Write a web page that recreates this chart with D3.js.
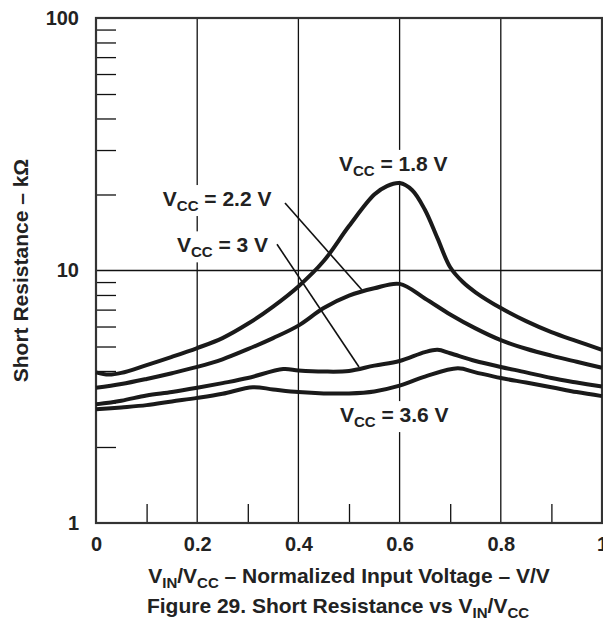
<!DOCTYPE html>
<html>
<head>
<meta charset="utf-8">
<script src="https://cdn.jsdelivr.net/npm/d3@7"></script>
<style>
  body { margin: 0; background: #fff; }
  svg { display: block; }
  text { font-family: Arial, "Liberation Sans", Helvetica, sans-serif; font-weight: bold; fill: #222; }
</style>
</head>
<body>
<svg width="603" height="624"></svg>
<script>
// values (x = VIN/VCC, y = short resistance in kOhm)
var vin18 = [0, 0.025, 0.05, 0.1, 0.15, 0.2, 0.25, 0.3, 0.35, 0.4, 0.45, 0.5, 0.55, 0.575, 0.6, 0.625, 0.65, 0.675, 0.7, 0.725, 0.75, 0.8, 0.85, 0.9, 0.95, 1.0];
var res18 = [3.95, 3.87, 3.93, 4.22, 4.55, 4.93, 5.4, 6.15, 7.2, 8.65, 10.9, 15.0, 20.0, 21.6, 22.2, 20.8, 17.4, 13.4, 10.3, 9.0, 8.2, 7.1, 6.3, 5.7, 5.25, 4.85];

var vin22 = [0, 0.05, 0.1, 0.15, 0.2, 0.25, 0.3, 0.35, 0.4, 0.45, 0.5, 0.55, 0.6, 0.65, 0.7, 0.75, 0.8, 0.85, 0.9, 0.95, 1.0];
var res22 = [3.43, 3.55, 3.72, 3.92, 4.15, 4.45, 4.88, 5.4, 6.05, 7.1, 7.95, 8.5, 8.85, 7.75, 6.7, 5.9, 5.3, 4.9, 4.6, 4.35, 4.12];

var vin30 = [0, 0.05, 0.1, 0.15, 0.2, 0.25, 0.3, 0.37, 0.4, 0.45, 0.5, 0.55, 0.6, 0.65, 0.675, 0.7, 0.75, 0.8, 0.85, 0.9, 0.95, 1.0];
var res30 = [2.95, 3.05, 3.2, 3.3, 3.43, 3.58, 3.75, 4.07, 4.02, 3.98, 4.0, 4.2, 4.38, 4.75, 4.85, 4.7, 4.38, 4.15, 3.95, 3.75, 3.6, 3.47];

var vin36 = [0, 0.05, 0.1, 0.15, 0.2, 0.25, 0.31, 0.35, 0.4, 0.45, 0.5, 0.55, 0.6, 0.65, 0.715, 0.75, 0.8, 0.85, 0.9, 0.95, 1.0];
var res36 = [2.82, 2.87, 2.93, 3.03, 3.13, 3.25, 3.45, 3.38, 3.3, 3.26, 3.26, 3.32, 3.5, 3.8, 4.1, 3.95, 3.75, 3.6, 3.45, 3.3, 3.18];

var xTicks = [0, 0.2, 0.4, 0.6, 0.8, 1];
var xTickLabels = ["0", "0.2", "0.4", "0.6", "0.8", "1"];
var xMinor = [0.1, 0.3, 0.5, 0.7, 0.9];
var yTicks = [1, 10, 100];
var yTickLabels = ["1", "10", "100"];
var yMinor = [2, 3, 4, 5, 6, 7, 8, 9, 20, 30, 40, 50, 60, 70, 80, 90];

// curve labels: text pieces [text, isSubscript], anchor in data units
var labelText = [
  [["V", 0], ["CC", 1], [" = 1.8 V", 0]],
  [["V", 0], ["CC", 1], [" = 2.2 V", 0]],
  [["V", 0], ["CC", 1], [" = 3 V", 0]],
  [["V", 0], ["CC", 1], [" = 3.6 V", 0]]
];
var labelAt = [[0.48, 24.8], [0.132, 18.0], [0.16, 11.8], [0.482, 2.51]];
// leader lines [from, to] in data units
var leaders = [
  [[0.3735, 18.5], [0.5257, 8.37]],
  [[0.3577, 12.7], [0.5198, 4.15]]
];

var svg = d3.select("svg");
var plotLeft = 96, plotRight = 602, plotTop = 18, plotBottom = 523;

var x = d3.scaleLinear().domain([0, 1]).range([plotLeft, plotRight]);
var y = d3.scaleLog().domain([1, 100]).range([plotBottom, plotTop]);

// grid lines
var grid = svg.append("g").attr("stroke", "#111").attr("stroke-width", 1.3);
grid.selectAll(".vg").data([0.2, 0.4, 0.6, 0.8]).enter().append("line")
  .attr("x1", d => x(d)).attr("x2", d => x(d))
  .attr("y1", plotTop).attr("y2", plotBottom);
grid.append("line")
  .attr("x1", plotLeft).attr("x2", plotRight)
  .attr("y1", y(10)).attr("y2", y(10));

// minor ticks inside the frame
var yMinorAxis = d3.axisRight(y).tickValues(yMinor).tickSize(20).tickFormat("");
svg.append("g").attr("transform", "translate(" + plotLeft + ",0)").call(yMinorAxis)
  .call(g => g.select(".domain").remove())
  .selectAll("line").attr("stroke", "#111").attr("stroke-width", 1.3);

var xMinorAxis = d3.axisTop(x).tickValues(xMinor).tickSize(19).tickFormat("");
svg.append("g").attr("transform", "translate(0," + plotBottom + ")").call(xMinorAxis)
  .call(g => g.select(".domain").remove())
  .selectAll("line").attr("stroke", "#111").attr("stroke-width", 1.3);

// tick labels
var yAxis = d3.axisLeft(y).tickValues(yTicks).tickSize(0).tickPadding(17)
  .tickFormat((d, i) => yTickLabels[i]);
svg.append("g").attr("transform", "translate(" + plotLeft + ",0)").call(yAxis)
  .call(g => g.select(".domain").remove())
  .call(g => g.attr("font-family", null).attr("font-size", null))
  .selectAll("text").attr("font-size", 20).attr("fill", "#222");

var xAxis = d3.axisBottom(x).tickValues(xTicks).tickSize(0).tickPadding(14)
  .tickFormat((d, i) => xTickLabels[i]);
svg.append("g").attr("transform", "translate(0," + plotBottom + ")").call(xAxis)
  .call(g => g.select(".domain").remove())
  .call(g => g.attr("font-family", null).attr("font-size", null))
  .selectAll("text").attr("font-size", 20).attr("fill", "#222");

// frame
svg.append("rect")
  .attr("x", plotLeft).attr("y", plotTop)
  .attr("width", plotRight - plotLeft).attr("height", plotBottom - plotTop)
  .attr("fill", "none").attr("stroke", "#333").attr("stroke-width", 2.2);

// leader lines
svg.append("g").selectAll("line").data(leaders).enter().append("line")
  .attr("x1", d => x(d[0][0])).attr("y1", d => y(d[0][1]))
  .attr("x2", d => x(d[1][0])).attr("y2", d => y(d[1][1]))
  .attr("stroke", "#111").attr("stroke-width", 1.6);

// curves
var line = d3.line()
  .x(d => x(d[0]))
  .y(d => y(d[1]))
  .curve(d3.curveCatmullRom.alpha(0.5));

var series = [[vin18, res18], [vin22, res22], [vin30, res30], [vin36, res36]];
svg.append("g").selectAll("path").data(series).enter().append("path")
  .attr("d", s => line(d3.zip(s[0], s[1])))
  .attr("fill", "none")
  .attr("stroke", "#1a1a1a")
  .attr("stroke-width", 4)
  .attr("stroke-linejoin", "round");

// text with subscripts
function richText(sel, parts, big, small) {
  var shifted = false;
  parts.forEach(function (p) {
    var dy = 0;
    if (p[1] && !shifted) { dy = 5; shifted = true; }
    else if (!p[1] && shifted) { dy = -5; shifted = false; }
    sel.append("tspan")
      .attr("font-size", p[1] ? small : big)
      .attr("dy", dy)
      .text(p[0]);
  });
}

var labels = svg.append("g");
labelText.forEach(function (parts, i) {
  var g = labels.append("g");
  var t = g.append("text")
    .attr("x", x(labelAt[i][0]))
    .attr("y", y(labelAt[i][1]))
    .attr("font-size", 21);
  richText(t, parts, 21, 15);
  var b = t.node().getBBox();
  g.insert("rect", "text")
    .attr("x", b.x - 3).attr("y", b.y - 2)
    .attr("width", b.width + 6).attr("height", b.height + 4)
    .attr("fill", "#fff");
});

// axis titles
svg.append("text")
  .attr("transform", "translate(28," + ((plotTop + plotBottom) / 2) + ") rotate(-90)")
  .attr("text-anchor", "middle")
  .attr("font-size", 21)
  .text("Short Resistance \u2013 k\u03a9");

var xTitle = svg.append("text")
  .attr("x", (plotLeft + plotRight) / 2).attr("y", 583)
  .attr("font-size", 21)
  .attr("text-anchor", "middle");
richText(xTitle, [["V", 0], ["IN", 1], ["/V", 0], ["CC", 1], [" \u2013 Normalized Input Voltage \u2013 V/V", 0]], 21, 15);

var caption = svg.append("text")
  .attr("x", 338).attr("y", 613)
  .attr("font-size", 21)
  .attr("text-anchor", "middle");
richText(caption, [["Figure 29. Short Resistance vs V", 0], ["IN", 1], ["/V", 0], ["CC", 1]], 21, 15);
</script>
</body>
</html>
